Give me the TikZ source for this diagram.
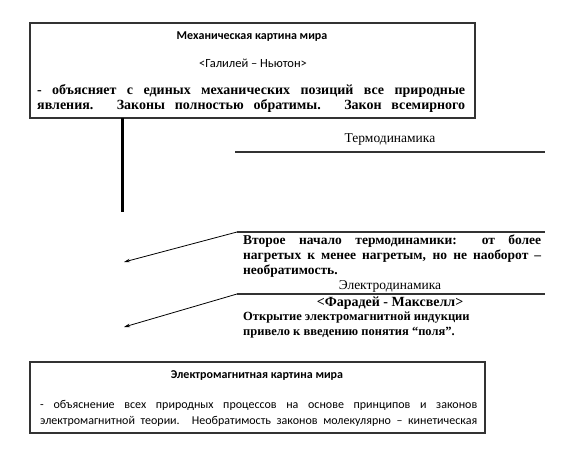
\documentclass[tikz,border=0pt]{standalone}
\usepackage{fontspec}
\setmainfont{Liberation Serif}
\newfontfamily\calfont{Carlito}
\usetikzlibrary{positioning, arrows.meta, calc}

\begin{document}
\begin{tikzpicture}[
    x=1pt, y=-1pt,
    box/.style={draw=black!80, line width=1.4pt},
    title/.style={font=\calfont\bfseries\fontsize{12}{14}\selectfont, inner sep=0pt},
    sub/.style={font=\calfont\fontsize{12.5}{14}\selectfont, inner sep=0pt},
    body/.style={font=\bfseries\fontsize{14}{16}\selectfont, inner sep=0pt, anchor=west},
    lawbody/.style={body, font=\bfseries\fontsize{13.5}{15}\selectfont},
    fieldbody/.style={body, font=\bfseries\fontsize{12.5}{15}\selectfont},
    cbody/.style={font=\calfont\fontsize{12}{14}\selectfont, inner sep=0pt, anchor=west},
    head/.style={font=\fontsize{13.5}{15}\selectfont, inner sep=0pt},
    rule/.style={line width=1.3pt, draw=black!80},
    stem/.style={line width=3pt},
    arrow/.style={-{Stealth[length=6pt, width=3.5pt]}, line width=0.8pt},
]
\useasboundingbox (0,0) rectangle (567,450);

%% NODES
    % mechanical picture of the world
    \coordinate (mech_nw) at (30,23);
    \coordinate (mech_se) at (475,118);
    \node[title] (mech_title) at (252,37) {Механическая картина мира};
    \node[sub] (mech_names) at (253,63) {<Галилей – Ньютон>};
    \begin{scope}
        \clip (mech_nw) rectangle (mech_se);
        \node[body] (mech_line1) at (37,91) {\makebox[428pt][s]{- объясняет с единых механических позиций все природные}};
        \node[body] (mech_line2) at (37,106) {\makebox[428pt][s]{явления. Законы полностью обратимы. Закон всемирного}};
    \end{scope}
    \draw[box] (mech_nw) rectangle (mech_se);
    \coordinate (mech_stem) at (122,212);

    % thermodynamics
    \node[head] (thermo) at (390,140) {Термодинамика};
    \coordinate (thermo_l) at (235,152);
    \coordinate (thermo_r) at (545,152);

    % second law
    \coordinate (law_l) at (237,232);
    \coordinate (law_r) at (545,232);
    \node[lawbody] (law_line1) at (243,241) {\makebox[298pt][s]{Второе начало термодинамики: от более}};
    \node[lawbody] (law_line2) at (243,256) {\makebox[298pt][s]{нагретых к менее нагретым, но не наоборот –}};
    \node[lawbody] (law_line3) at (243,271) {необратимость.};
    \coordinate (law_tip) at (124,262);

    % electrodynamics
    \node[head] (electro) at (390,286) {Электродинамика};
    \coordinate (electro_l) at (237,294);
    \coordinate (electro_r) at (545,294);
    \node[body, anchor=center] (electro_names) at (390,303) {<Фарадей - Максвелл>};
    \node[fieldbody] (electro_line1) at (243,318) {Открытие электромагнитной индукции};
    \node[fieldbody] (electro_line2) at (243,333) {привело к введению понятия “поля”.};
    \coordinate (electro_tip) at (124,327);

    % electromagnetic picture of the world
    \coordinate (em_nw) at (30,362);
    \coordinate (em_se) at (485,433);
    \node[title] (em_title) at (257,376) {Электромагнитная картина мира};
    \node[cbody] (em_line1) at (40,405) {\makebox[437pt][s]{- объяснение всех природных процессов на основе принципов и законов}};
    \node[cbody] (em_line2) at (40,421) {\makebox[437pt][s]{электромагнитной теории. Необратимость законов молекулярно – кинетическая}};
    \draw[box] (em_nw) rectangle (em_se);

%% CONNECTIONS
    % mechanical picture -> down
    \draw[stem] (mech_stem |- mech_se) -- (mech_stem);

    % section rules
    \draw[rule] (thermo_l) -- (thermo_r);
    \draw[rule] (law_l) -- (law_r);
    \draw[rule] (electro_l) -- (electro_r);

    % second law -> left
    \draw[arrow] (law_l) -- (law_tip);

    % electrodynamics -> left
    \draw[arrow] (electro_l) -- (electro_tip);

\end{tikzpicture}
\end{document}
